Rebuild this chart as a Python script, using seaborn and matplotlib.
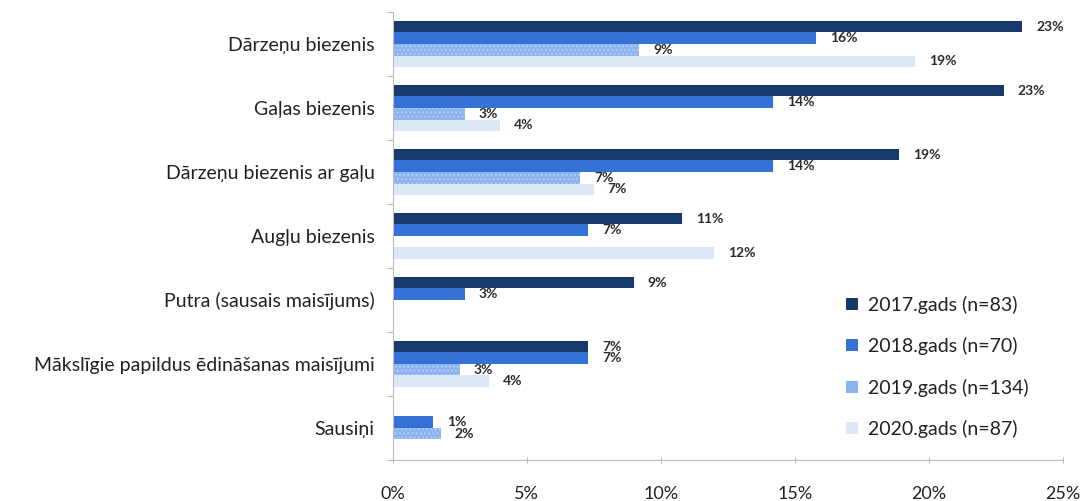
import matplotlib
matplotlib.use("Agg")
import matplotlib.pyplot as plt
import seaborn as sns
import pandas as pd
import numpy as np
from matplotlib.ticker import FixedLocator, PercentFormatter

categories = [
    "Dārzeņu biezenis",
    "Gaļas biezenis",
    "Dārzeņu biezenis ar gaļu",
    "Augļu biezenis",
    "Putra (sausais maisījums)",
    "Mākslīgie papildus ēdināšanas maisījumi",
    "Sausiņi",
]
series = ["2017.gads (n=83)", "2018.gads (n=70)", "2019.gads (n=134)", "2020.gads (n=87)"]

v2017 = [23.5, 22.8, 18.9, 10.8, 9.0, 7.3, 0.0]
v2018 = [15.8, 14.2, 14.2, 7.3, 2.7, 7.3, 1.5]
v2019 = [9.2, 2.7, 7.0, 0.0, 0.0, 2.5, 1.8]
v2020 = [19.5, 4.0, 7.5, 12.0, 0.0, 3.6, 0.0]

l2017 = ["23%", "23%", "19%", "11%", "9%", "7%", ""]
l2018 = ["16%", "14%", "14%", "7%", "3%", "7%", "1%"]
l2019 = ["9%", "3%", "7%", "", "", "3%", "2%"]
l2020 = ["19%", "4%", "7%", "12%", "", "4%", ""]

colors = ["#17396C", "#3572D6", "#8DB3EF", "#DCE6F6"]

values = [v2017, v2018, v2019, v2020]
labels = [l2017, l2018, l2019, l2020]

df = pd.DataFrame({
    "category": np.tile(categories, len(series)),
    "series": np.repeat(series, len(categories)),
    "value": np.concatenate(values),
})

sns.set_theme(style="white")
plt.rcParams["font.family"] = ["Lato", "DejaVu Sans"]

fig = plt.figure(figsize=(10.91, 5.01), dpi=100)
ax = fig.add_axes([0.360, 0.082, 0.614, 0.894])

sns.barplot(data=df, y="category", x="value", hue="series", order=categories,
            hue_order=series, palette=colors, orient="h", width=0.72,
            saturation=1, ax=ax, legend=True, linewidth=0)

for cont, labs in zip(ax.containers, labels):
    ax.bar_label(cont, labels=labs, padding=10, fontsize=10, color="#2b2b2b",
                 fontweight="bold")

# texture on 2019
for patch in ax.containers[2]:
    patch.set_hatch("....")
    patch.set_edgecolor("#B5CDF5")
    patch.set_linewidth(0)

ax.set_xlim(0, 25)
ax.set_ylim(6.5, -0.5)
ax.xaxis.set_major_locator(FixedLocator([0, 5, 10, 15, 20, 25]))
ax.xaxis.set_major_formatter(PercentFormatter(decimals=0))
ax.set_xlabel("")
ax.set_ylabel("")

ax.tick_params(axis="x", which="major", length=5, width=0.8, color="#BBBBBB",
               direction="inout", pad=16, labelsize=13, labelcolor="#222222",
               bottom=True)
ax.tick_params(axis="y", which="major", length=0, pad=13, labelsize=14,
               labelcolor="#222222")
ax.yaxis.set_minor_locator(FixedLocator(np.arange(-0.5, 7.0, 1.0)))
ax.tick_params(axis="y", which="minor", length=4, width=0.8, color="#BBBBBB",
               left=True)

for s in ["top", "right"]:
    ax.spines[s].set_visible(False)
for s in ["left", "bottom"]:
    ax.spines[s].set_color("#BBBBBB")
    ax.spines[s].set_linewidth(0.8)

leg = ax.legend(loc="lower right", bbox_to_anchor=(0.975, 0.01), frameon=False,
                fontsize=14, handlelength=0.6, handleheight=0.6,
                labelspacing=1.2, handletextpad=0.5)
for t in leg.get_texts():
    t.set_color("#222222")

fig.savefig("out.png", dpi=100)
